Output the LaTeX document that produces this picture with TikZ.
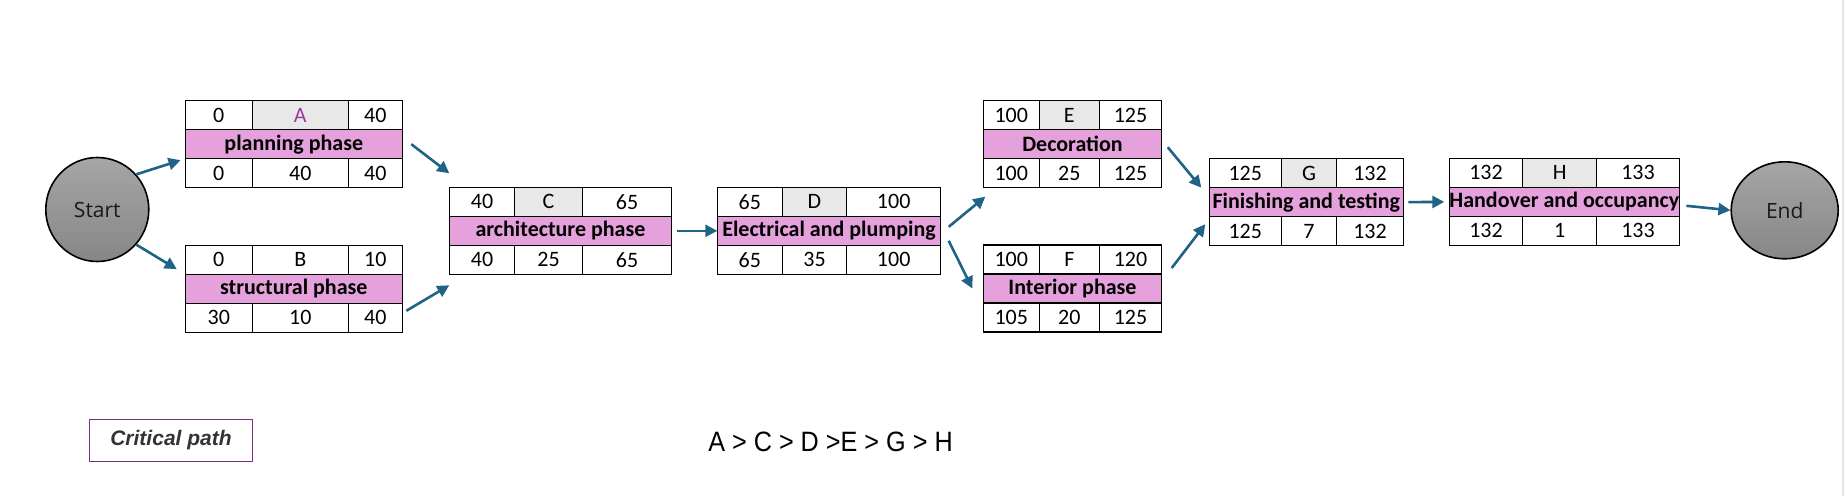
\documentclass[tikz,border=0pt]{standalone}
\usepackage{fontspec}
\usepackage{graphicx}
\setmainfont{Carlito}
\newfontfamily\circfont{Open Sans}
\newfontfamily\notefont{Liberation Sans}
\usetikzlibrary{positioning,shapes.geometric,arrows.meta}
\definecolor{phasepink}{HTML}{E4A1DC}
\definecolor{idgrey}{HTML}{E8E8E8}
\definecolor{linkblue}{HTML}{1F6386}
\definecolor{letterpurple}{HTML}{9B3B9B}
\definecolor{critpurple}{HTML}{7B2C7F}
\tikzset{
  cell/.style={draw, line width=1.2pt, minimum height=29pt, inner sep=0pt, outer sep=0pt, font=\fontsize{22}{26}\selectfont},
  crit/.style={fill=idgrey},
  phase/.style={cell, fill=phasepink, font=\fontsize{22}{26}\selectfont\bfseries},
  link/.style={draw=linkblue, line width=2.6pt, -{Triangle[length=12pt,width=12pt]}},
  endpoint/.style={ellipse, draw, line width=1.6pt, inner sep=0pt, top color=gray!70, bottom color=gray!95!black!90, text=black!90, font=\circfont\fontsize{21}{24}\selectfont}
}
% one activity box: name, top left, widths, top row, title, bottom row, id style
\newcommand{\activity}[7]{%
  \foreach \wa/\wb/\wc in {#3}{%
    \foreach \tes/\tid/\tef in {#4}{%
      \node[cell, anchor=north west, minimum width=\wa pt] (#1-es) at #2 {\tes};
      \node[cell, #7, right=0pt of #1-es, minimum width=\wb pt] (#1-id) {\tid};
      \node[cell, right=0pt of #1-id, minimum width=\wc pt] (#1-ef) {\tef};
    }
    \node[phase, anchor=north west, minimum width=\wa pt+\wb pt+\wc pt] (#1-nm) at (#1-es.south west) {#5};
    \foreach \tls/\tdu/\tlf in {#6}{%
      \node[cell, anchor=north west, minimum width=\wa pt] (#1-ls) at (#1-nm.south west) {\tls};
      \node[cell, right=0pt of #1-ls, minimum width=\wb pt] (#1-du) {\tdu};
      \node[cell, right=0pt of #1-du, minimum width=\wc pt] (#1-lf) {\tlf};
    }
  }%
}
\begin{document}
\begin{tikzpicture}[x=1pt,y=-1pt]
\useasboundingbox[fill=white] (0,0) rectangle (1846,496);
\draw[line width=2pt, gray!22] (1843,0) -- (1843,496);

\node[endpoint, minimum width=103pt, minimum height=104pt] (start) at (97.3,209.5) {Start};
\node[endpoint, minimum width=107pt, minimum height=97pt] (end) at (1784.7,210.3) {End};

\activity{A}{(185.3,100.7)}{67/96/54}{0/A/40}{planning phase}{0/40/40}{crit, text=letterpurple}
\activity{B}{(185.3,245.3)}{67/96/54}{0/B/10}{structural phase}{30/10/40}{}
\activity{C}{(449.3,187.3)}{65.4/67.6/89.4}{40/C/65}{architecture phase}{40/25/65}{crit}
\activity{D}{(717.3,187.3)}{65/64.4/94}{65/D/100}{Electrical and plumping}{65/35/100}{crit}
\activity{E}{(983.3,100.7)}{56/60/62.4}{100/E/125}{Decoration}{100/25/125}{crit}
\activity{F}{(983.3,245)}{56/60/62.4}{100/F/120}{Interior phase}{105/20/125}{}
\activity{G}{(1209.3,158.7)}{72/55.4/66.6}{125/G/132}{Finishing and testing}{125/7/132}{crit}
\activity{H}{(1449.3,158.3)}{73.4/74/82.6}{132/H/133}{Handover and occupancy}{132/1/133}{crit}

\draw[link, shorten >=5pt] (start.42) -- (A-ls.north west);
\draw[link, shorten >=10pt] (start.-42) -- (B-nm.north west);
\draw[link] ([xshift=9pt]A-nm.east) -- ([yshift=14pt]C-es.north west);
\draw[link] ([xshift=4pt,yshift=7pt]B-lf.east) -- ([yshift=-11pt]C-ls.south west);
\draw[link, shorten <=5pt] (C-nm.east) -- (D-nm.west);
\draw[link] ([xshift=8pt,yshift=4pt]D-nm.east) -- ([xshift=2pt,yshift=-9pt]E-ls.south west);
\draw[link] ([xshift=8pt,yshift=-10pt]D-nm.east) -- ([xshift=-11pt]F-nm.west);
\draw[link] ([xshift=6pt,yshift=-3pt]E-nm.east) -- ([xshift=-8pt]G-es.south west);
\draw[link] ([xshift=10pt,yshift=6pt]F-ef.south east) -- ([xshift=-4pt,yshift=-7.5pt]G-nm.south west);
\draw[link, shorten <=5pt, shorten >=5pt] (G-nm.east) -- (H-nm.west);
\draw[link] ([xshift=7pt,yshift=-4pt]H-nm.east) -- (end.west);

\node[draw=critpurple, line width=1.4pt, minimum width=163pt, minimum height=42pt, text=black!80, font=\notefont\fontsize{21}{24}\selectfont\bfseries\itshape] (key) at (171,440.3) {Critical path};
\node[font=\notefont\fontsize{28}{32}\selectfont] (path) at (830.5,441.7) {\scalebox{0.9}[1]{A > C > D >E > G > H}};
\end{tikzpicture}
\end{document}
